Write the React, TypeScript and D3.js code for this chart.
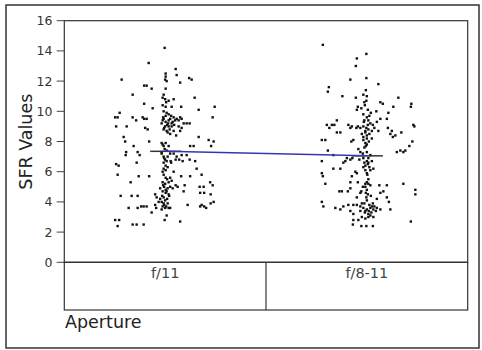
import React from "react";
import * as d3 from "d3";

const categories = ["f/11", "f/8-11"];
const yTicks = [0, 2, 4, 6, 8, 10, 12, 14, 16];
const groupMeans = [7.35, 7.05];
const xTitle = "Aperture";
const yTitle = "SFR Values";

// [jitter (-1..1 of half band spread), SFR value]
const f11Points: [number, number][] = [
  [-0.01, 14.2], [-0.33, 13.2], [0.21, 12.8], [0.01, 12.5], [0.01, 12.3], [0, 12.1], [0.23, 12.4],
  [-0.87, 12.1], [0.48, 12.2], [0.53, 12.1], [0.3, 11.9], [-0.42, 11.7], [-0.37, 11.7], [-0.27, 11.5],
  [-0.65, 11.1], [0.01, 11.5], [0.59, 10.9], [-0.05, 10.9], [0, 10.8], [0.07, 10.7], [0.17, 10.8],
  [-0.42, 10.5], [-0.05, 10.4], [0.99, 10.3], [-0.25, 10.2], [0.01, 10.3], [0.13, 10.3], [0.32, 10.3],
  [0.67, 10.1], [-0.91, 9.9], [-1.0, 9.6], [-0.95, 9.6], [-0.65, 9.6], [-0.45, 9.6], [-0.42, 9.5],
  [-0.37, 9.5], [-0.03, 10.0], [0.03, 9.9], [0.01, 9.7], [0.07, 9.8], [-0.03, 9.5], [0.1, 9.5],
  [0.17, 9.6], [0.23, 9.5], [0.3, 9.6], [0.33, 9.5], [-0.05, 9.4], [0.01, 9.3], [0.07, 9.4],
  [0.13, 9.2], [0.2, 9.4], [0.27, 9.4], [0.37, 9.2], [0.43, 9.2], [0.49, 9.2], [-0.07, 9.2],
  [0, 9.0], [0.07, 9.0], [0.13, 9.0], [0.27, 9.0], [0.33, 8.9], [-0.03, 8.8], [0.03, 8.7],
  [0.17, 8.7], [0.1, 8.5], [0.22, 8.4], [0.3, 8.7], [0.95, 9.6], [-0.98, 9.0], [-0.77, 9.0],
  [-0.58, 9.4], [-0.4, 8.9], [-0.35, 8.8], [-0.83, 8.3], [0.67, 8.3], [-0.8, 8.0], [0.87, 8.1],
  [0.97, 8.0], [-0.32, 8.0], [-0.63, 7.7], [0.5, 7.7], [0.57, 7.7], [0.92, 7.7], [-0.07, 7.9],
  [-0.03, 7.7], [0.01, 7.9], [0.07, 7.7], [-0.01, 7.5], [-0.07, 7.3], [-0.78, 7.3], [-0.79, 7.1],
  [-0.55, 7.3], [-0.51, 7.1], [-0.07, 7.2], [-0.03, 7.0], [0, 6.8], [-0.03, 6.6], [0.01, 6.4],
  [0.1, 7.2], [0.17, 7.2], [0.23, 7.0], [0.33, 7.1], [0.43, 7.1], [0.21, 6.8], [0.28, 6.8],
  [0.35, 6.7], [0.49, 6.8], [0.6, 6.7], [-0.57, 6.6], [0.11, 6.7], [0.12, 6.6], [-0.98, 6.5],
  [-0.93, 6.4], [-0.03, 6.2], [0.01, 6.1], [0.17, 6.0], [0.63, 6.2], [-0.95, 5.8], [-0.32, 5.7],
  [-0.53, 5.7], [0.32, 5.7], [0.5, 5.7], [0.73, 5.8], [-0.03, 5.8], [0.01, 5.6], [-0.05, 5.3],
  [0, 5.2], [0.07, 5.3], [0.13, 5.4], [-0.69, 5.3], [0.9, 5.3], [0.21, 5.1], [0.25, 5.0],
  [0.39, 5.1], [0.1, 5.0], [0.15, 4.9], [-0.02, 5.0], [0.01, 4.8], [0.69, 5.0], [0.77, 5.0],
  [0.95, 5.1], [-0.05, 4.7], [0.01, 4.6], [0.07, 4.5], [-0.03, 4.3], [-0.1, 4.2], [0, 4.1],
  [-0.07, 4.0], [-0.2, 4.5], [-0.17, 4.3], [0.03, 4.7], [0.37, 4.7], [-0.89, 4.4], [-0.67, 4.4],
  [-0.55, 4.4], [0.7, 4.6], [0.78, 4.6], [0.91, 4.5], [0.45, 3.8], [0.73, 3.8], [0.78, 3.7],
  [0.91, 3.9], [0.97, 4.0], [-0.13, 4.0], [-0.2, 3.8], [-0.18, 3.6], [-0.03, 3.9], [0.02, 3.7],
  [0.07, 3.6], [0.1, 3.6], [0, 3.6], [-0.07, 3.5], [-0.73, 3.6], [-0.55, 3.6], [-0.48, 3.7],
  [-0.43, 3.7], [-0.37, 3.7], [-0.27, 3.3], [0.7, 3.7], [0.82, 3.6], [0.03, 3.1], [-0.01, 2.8],
  [-1.0, 2.8], [-0.92, 2.8], [-0.95, 2.4], [-0.65, 2.5], [-0.57, 2.5], [-0.43, 2.5], [0.3, 2.7],
  [0.04, 9.1], [-0.04, 9.6], [0.06, 9.2], [-0.02, 8.9], [0.05, 8.6], [-0.05, 7.8], [0.03, 7.4],
  [0.05, 7.0], [-0.02, 6.9], [0.03, 6.7], [-0.05, 6.0], [0.04, 5.5], [-0.04, 5.1], [0.05, 4.9],
  [-0.06, 4.4], [0.04, 4.2], [-0.02, 3.8], [0.05, 3.9], [-0.05, 3.7], [0.08, 4.4], [0.02, 10.6],
  [-0.03, 11.1], [0.03, 12.0], [0.12, 9.7], [0.15, 9.3], [0.09, 8.8], [0.18, 9.1], [0.05, 6.3],
  [0.1, 5.6], [-0.1, 4.9],
];

const f811Points: [number, number][] = [
  [-0.88, 14.4], [-0.01, 13.8], [-0.2, 13.5], [-0.22, 13.0], [-0.01, 12.2], [-0.33, 12.1], [0.23, 11.8],
  [-0.76, 11.6], [-0.78, 11.3], [-0.02, 11.4], [-0.07, 11.1], [0, 11.0], [-0.49, 11.0], [0.63, 10.9],
  [-0.22, 10.9], [-0.01, 10.7], [-0.05, 10.6], [0.27, 10.6], [0.32, 10.5], [0.89, 10.5], [0.88, 10.3],
  [0.53, 10.3], [-0.18, 10.3], [-0.2, 10.1], [-0.11, 10.2], [0.02, 10.1], [0.08, 9.9], [0.19, 10.0],
  [0.43, 9.9], [0.4, 9.5], [-0.07, 9.8], [0, 9.6], [-0.05, 9.4], [0.03, 9.4], [0.07, 9.2],
  [0.12, 9.1], [0.2, 9.3], [0.27, 9.5], [-0.8, 9.1], [-0.75, 8.9], [-0.7, 9.1], [-0.65, 9.1],
  [-0.6, 9.4], [-0.37, 9.1], [-0.3, 9.0], [-0.33, 8.9], [-0.21, 8.9], [-0.18, 9.0], [-0.13, 8.9],
  [-0.07, 9.0], [-0.01, 8.9], [0.03, 8.8], [0.1, 8.7], [0.23, 8.7], [0.93, 9.1], [0.95, 9.0],
  [-0.6, 8.6], [-0.53, 8.6], [-0.1, 8.5], [-0.07, 8.3], [0, 8.4], [0, 8.2], [0.05, 8.5],
  [-0.03, 8.7], [0.42, 8.9], [0.47, 8.5], [0.52, 8.3], [0.57, 8.4], [0.5, 8.7], [0.69, 8.6],
  [-0.9, 8.1], [-0.83, 8.1], [-0.31, 8.0], [-0.27, 8.1], [-0.07, 8.1], [-0.03, 7.9], [0, 7.8],
  [-0.05, 7.6], [0.91, 8.0], [0.85, 7.7], [0.67, 7.4], [0.6, 7.3], [0.73, 7.3], [0.77, 7.4],
  [-0.78, 7.4], [-0.67, 7.1], [-0.17, 7.5], [-0.13, 7.3], [-0.08, 7.2], [0, 7.3], [0.07, 7.1],
  [-0.29, 6.9], [-0.33, 6.8], [-0.4, 6.9], [-0.43, 6.7], [-0.47, 6.6], [-0.07, 6.9], [0, 6.7],
  [-0.03, 6.4], [0.03, 6.6], [-0.07, 6.3], [-0.9, 6.7], [-0.53, 6.2], [-0.67, 6.2], [-0.23, 6.0],
  [-0.2, 5.9], [-0.03, 6.1], [0, 5.9], [0.07, 6.1], [0.13, 6.2], [-0.9, 5.9], [-0.88, 5.7],
  [-0.3, 5.7], [0, 5.3], [-0.03, 5.2], [0.03, 5.2], [-0.18, 5.3], [-0.33, 5.3], [-0.83, 5.2],
  [0.25, 5.1], [0.4, 5.1], [0.73, 5.2], [-0.33, 4.9], [-0.03, 5.0], [0, 4.8], [0.07, 5.1],
  [-0.11, 4.7], [-0.13, 4.6], [-0.55, 4.7], [-0.5, 4.7], [-0.38, 4.7], [0.27, 4.6], [0.33, 4.7],
  [0.97, 4.8], [0.97, 4.5], [-0.01, 4.3], [0, 4.1], [-0.05, 3.9], [-0.2, 4.3], [0.2, 4.2],
  [0.4, 4.3], [0.44, 4.0], [-0.9, 4.0], [-0.87, 3.7], [-0.63, 3.6], [-0.53, 3.5], [-0.47, 3.7],
  [-0.37, 3.8], [-0.27, 3.8], [-0.2, 3.8], [-0.13, 3.7], [-0.07, 3.6], [-0.03, 3.4], [0, 3.5],
  [0.03, 3.2], [0.07, 3.6], [0.1, 3.7], [0.13, 3.5], [0.2, 3.6], [0.27, 3.5], [0.47, 3.5],
  [-0.13, 3.4], [-0.27, 3.2], [-0.33, 3.4], [-0.1, 3.0], [-0.03, 2.9], [0.07, 3.1], [0.13, 3.0],
  [-0.27, 2.8], [-0.17, 2.8], [-0.28, 2.5], [-0.11, 2.4], [-0.01, 2.4], [0.12, 2.4], [0.88, 2.7],
  [0.02, 9.1], [-0.03, 8.6], [0.04, 8.0], [-0.02, 7.7], [0.03, 6.9], [0.02, 6.5], [-0.05, 6.6],
  [0.05, 6.3], [0.01, 5.8], [0.03, 5.5], [-0.02, 4.6], [0.02, 4.5], [0.05, 3.8], [-0.04, 3.3],
  [0.04, 3.4], [0.09, 3.3], [0.12, 3.9], [0.15, 3.7], [-0.1, 3.9], [0.03, 3.0], [-0.06, 9.3],
  [0.05, 9.7], [-0.04, 10.4], [0.1, 8.2], [0.15, 8.9], [-0.15, 6.8], [0.1, 6.7], [0.08, 4.4],
  [-0.08, 5.0], [0.18, 3.4],
];

const groups = [f11Points, f811Points];

export default function App() {
  const W = 482;
  const H = 350;
  const left = 64.3;
  const right = 467.7;
  const top = 20.7;
  const bottom = 262.3;
  const catBottom = 310;

  const x = d3.scaleBand<string>().domain(categories).range([left, right]).padding(0);
  const y = d3.scaleLinear().domain([0, 16]).range([bottom, top]);
  const spread = 50;
  const cx = (c: string) => (x(c) as number) + x.bandwidth() / 2;

  const font = "'DejaVu Sans', Verdana, sans-serif";
  const meanLine = d3
    .line<number>()
    .x((_, i) => cx(categories[i]))
    .y((d) => y(d));

  return (
    <div style={{ position: "absolute", left: 0, top: 0 }}>
      <svg width={W} height={H} style={{ display: "block", background: "#fff" }}>
        <rect x={6} y={5} width={473} height={343} fill="#fff" stroke="#333" strokeWidth={1.5} />
        {yTicks.map((t) => (
          <g key={t}>
            <line x1={56.7} x2={left} y1={y(t)} y2={y(t)} stroke="#444" strokeWidth={1} />
            <text
              x={52.5}
              y={y(t)}
              dy="0.36em"
              textAnchor="end"
              fontFamily={font}
              fontSize={12.5}
              fill="#333"
            >
              {t}
            </text>
          </g>
        ))}
        {groups.map((pts, gi) =>
          pts.map(([j, v], i) => (
            <rect
              key={`${gi}-${i}`}
              x={cx(categories[gi]) + j * spread - 1.2}
              y={y(v) - 1.2}
              width={2.4}
              height={2.4}
              fill="#111"
            />
          ))
        )}
        {groupMeans.map((m, i) => (
          <line
            key={`m${i}`}
            x1={cx(categories[i]) - 15}
            x2={cx(categories[i]) + 16}
            y1={y(m)}
            y2={y(m)}
            stroke="#333"
            strokeWidth={1.5}
          />
        ))}
        <path d={meanLine(groupMeans) || ""} fill="none" stroke="#3535b8" strokeWidth={1.5} />
        <rect x={left} y={top} width={right - left} height={bottom - top} fill="none" stroke="#333" strokeWidth={1.2} />
        <rect x={left} y={bottom} width={right - left} height={catBottom - bottom} fill="none" stroke="#333" strokeWidth={1.2} />
        <line x1={x(categories[1]) as number} x2={x(categories[1]) as number} y1={bottom} y2={catBottom} stroke="#333" strokeWidth={1.2} />
        {categories.map((c) => (
          <text key={c} x={cx(c)} y={278} textAnchor="middle" fontFamily={font} fontSize={14.5} fill="#444">
            {c}
          </text>
        ))}
        <text x={65} y={328} fontFamily={font} fontSize={17.5} fill="#222">
          {xTitle}
        </text>
        <text
          transform={`translate(31.5, 141.7) rotate(-90)`}
          textAnchor="middle"
          fontFamily={font}
          fontSize={17.5}
          fill="#222"
        >
          {yTitle}
        </text>
      </svg>
    </div>
  );
}
